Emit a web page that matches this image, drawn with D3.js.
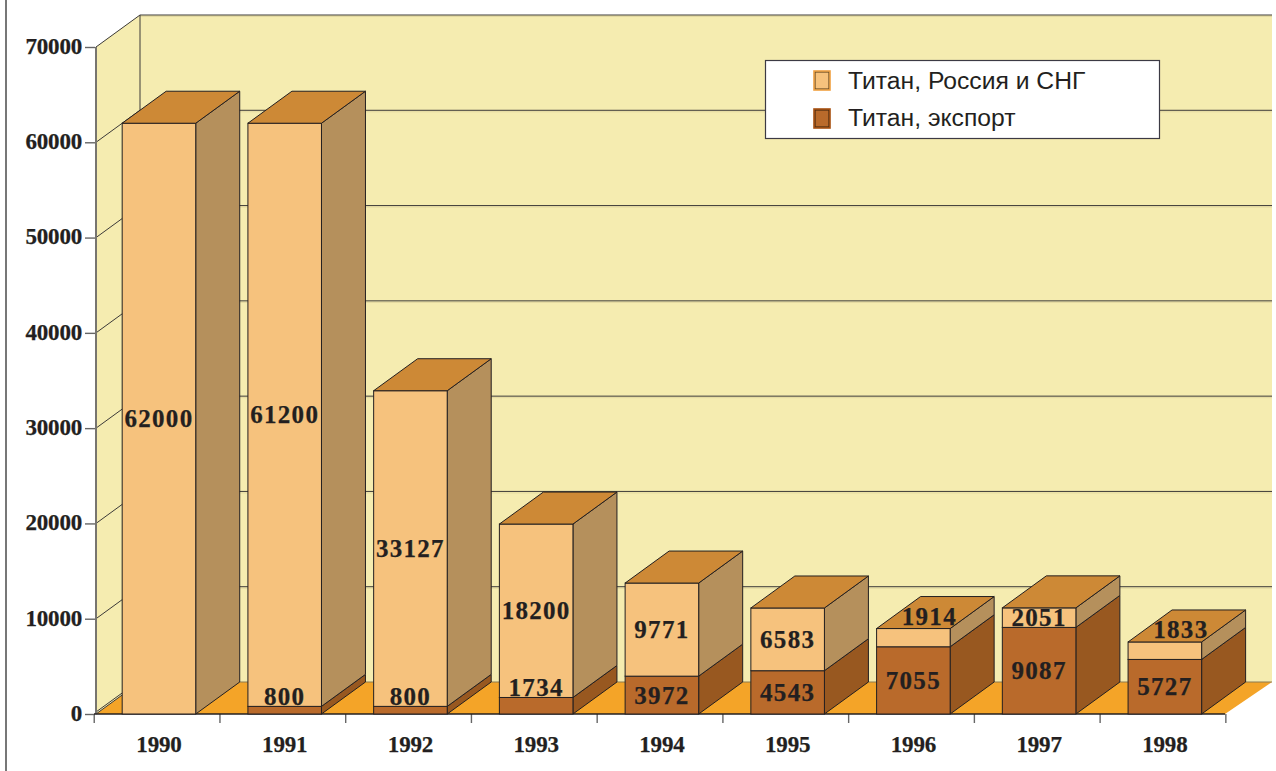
<!DOCTYPE html>
<html><head><meta charset="utf-8">
<script src="https://cdn.jsdelivr.net/npm/d3@7/dist/d3.min.js"></script>
<style>html,body{margin:0;padding:0;background:#fff;overflow:hidden}svg{display:block}
.s{font-family:"Liberation Serif",serif;font-weight:700;fill:#231f20;stroke:#231f20;stroke-width:.25px}</style>
</head><body><svg id="c" width="1276" height="771"></svg>
<script>
const years = ["1990","1991","1992","1993","1994","1995","1996","1997","1998"];
const exportValues = [0,800,800,1734,3972,4543,7055,9087,5727];
const russiaValues = [62000,61200,33127,18200,9771,6583,1914,2051,1833];
const yTicks = [0,10000,20000,30000,40000,50000,60000,70000];
const seriesNames = ["Титан, Россия и СНГ","Титан, экспорт"];

const light = {front:"#f6c27d", side:"#b5905c", top:"#cd8936"};
const dark  = {front:"#b96a2b", side:"#985820", top:"#cd8936"};
const wallC = "#f5ecb0", floorC = "#f4a428", ink = "#231f20", line = "#3c3a38";
const depthX = 44, depthY = -32;

const svg = d3.select("#c");
const x = d3.scaleBand().domain(years).range([96.4,1227.4]).paddingInner(0.415).paddingOuter(0.205);
const y = d3.scaleLinear().domain([0,70000]).range([714,47]);
const poly = pts => pts.map(p=>p.join(",")).join(" ");

svg.append("line").attr("x1",6).attr("x2",6).attr("y1",0).attr("y2",771).attr("stroke","#555").attr("stroke-width",1.6);

const [x0,x1] = [96,1228];
const yTop = y(70000), yBase = y(0);
svg.append("polygon").attr("points",poly([[x0,yTop],[x0+depthX,yTop+depthY],[x0+depthX,yBase+depthY],[x0,yBase]])).attr("fill",wallC);
svg.append("rect").attr("x",x0+depthX).attr("y",yTop+depthY).attr("width",x1-x0).attr("height",yBase-yTop).attr("fill",wallC);
svg.append("polygon").attr("points",poly([[x0,yBase],[x0+depthX,yBase+depthY],[x1+depthX,yBase+depthY],[x1-3,yBase]])).attr("fill",floorC);

const grid = svg.append("g");
yTicks.forEach(t=>{
  const yy = y(t);
  if(t>0){
    grid.append("line").attr("x1",x0+depthX).attr("x2",x1+depthX).attr("y1",yy+depthY+1.5).attr("y2",yy+depthY+1.5).attr("stroke","#e3d9a0").attr("stroke-width",1);
    grid.append("line").attr("x1",x0+depthX).attr("x2",x1+depthX).attr("y1",yy+depthY).attr("y2",yy+depthY).attr("stroke",line).attr("stroke-width",1);
  } else {
    grid.append("line").attr("x1",x0+depthX).attr("x2",x1+depthX).attr("y1",yy+depthY).attr("y2",yy+depthY).attr("stroke","#8a7a50").attr("stroke-width",1);
    grid.append("line").attr("x1",x0).attr("x2",x0+depthX).attr("y1",yy-2).attr("y2",yy+depthY-2).attr("stroke",line).attr("stroke-width",1);
  }
  grid.append("line").attr("x1",x0).attr("x2",x0+depthX).attr("y1",yy).attr("y2",yy+depthY).attr("stroke",line).attr("stroke-width",1);
});
grid.append("line").attr("x1",x0+depthX).attr("x2",x0+depthX).attr("y1",yTop+depthY).attr("y2",yBase+depthY).attr("stroke",line).attr("stroke-width",1);
grid.append("line").attr("x1",x0).attr("x2",x0).attr("y1",yTop).attr("y2",yBase).attr("stroke","#77756f").attr("stroke-width",2);

const axL = svg.append("g").attr("transform",`translate(${x0-1},0)`)
  .call(d3.axisLeft(y).tickValues(yTicks).tickFormat(d3.format("d")).tickSize(10).tickPadding(3));
const axB = svg.append("g").attr("transform",`translate(0,${yBase})`)
  .call(d3.axisBottom(x).tickSize(0).tickPadding(22));
axL.select(".domain").remove(); axB.select(".domain").remove();
axL.selectAll("line").attr("stroke","#666").attr("stroke-width",1.4);
axL.selectAll("text").attr("class","s").attr("y",-1).style("font-size","23px").style("letter-spacing","-.2px");
axB.selectAll("text").attr("class","s").style("font-size","23px").style("letter-spacing","-.2px");
const step = x.step();
const firstTick = x(years[0]) - x.bandwidth()*0.38;
axB.selectAll("line.sep").data(d3.range(years.length+1)).enter().append("line").attr("class","sep")
  .attr("x1",i=>firstTick+i*step).attr("x2",i=>firstTick+i*step)
  .attr("y1",0).attr("y2",9).attr("stroke","#666").attr("stroke-width",1.4);
svg.append("line").attr("x1",x0-2).attr("x2",x1-3).attr("y1",yBase).attr("y2",yBase).attr("stroke",ink).attr("stroke-width",1.4);

function seg(g,bx,w,v0,v1,c,withTop){
  const a=y(v0), b=y(v1);
  g.append("polygon").attr("points",poly([[bx+w,a],[bx+w+depthX,a+depthY],[bx+w+depthX,b+depthY],[bx+w,b]])).attr("fill",c.side).attr("stroke",ink).attr("stroke-width",1);
  g.append("rect").attr("x",bx).attr("y",b).attr("width",w).attr("height",a-b).attr("fill",c.front).attr("stroke",ink).attr("stroke-width",1);
  if(withTop) g.append("polygon").attr("points",poly([[bx,b],[bx+depthX,b+depthY],[bx+w+depthX,b+depthY],[bx+w,b]])).attr("fill",c.top).attr("stroke",ink).attr("stroke-width",1);
}
const bars = svg.append("g");
const labels = svg.append("g");
function lab(cx,cy,v){
  labels.append("text").attr("class","s").attr("x",cx).attr("y",cy).attr("text-anchor","middle").attr("dy","0.34em")
    .style("font-size","25px").style("letter-spacing","1.3px").text(v);
}
const small = 2000;
years.forEach((yr,i)=>{
  const bx=x(yr), w=x.bandwidth(), e=exportValues[i], r=russiaValues[i], cx=bx+w/2;
  const g=bars.append("g");
  if(e>0) seg(g,bx,w,0,e,dark,false);
  seg(g,bx,w,e,e+r,light,true);
  if(e>0) lab(cx, e<small ? y(e)-10 : y(e/2), e);
  if(r<small) lab(cx+16, y(e+r)-12, r);
  else lab(cx, y(e+r/2), r);
});

const leg = svg.append("g");
leg.append("rect").attr("x",765.5).attr("y",60.5).attr("width",394).attr("height",78).attr("fill","#fff").attr("stroke","#3c3a44").attr("stroke-width",1.2);
[[light,"#f0a040","#6b4a20"],[dark,"#a85010","#4a2a10"]].forEach(([c,o,n],i)=>{
  const yy=[71,109][i];
  leg.append("rect").attr("x",814).attr("y",yy).attr("width",16).attr("height",19).attr("fill",c.front).attr("stroke",o).attr("stroke-width",1.6);
  leg.append("rect").attr("x",815.2).attr("y",yy+1.2).attr("width",13.6).attr("height",16.6).attr("fill","none").attr("stroke",n).attr("stroke-width",.8);
  leg.append("text").attr("x",848).attr("y",[89,126][i]).attr("font-family","Liberation Sans").attr("font-size",24.7).attr("fill",ink).text(seriesNames[i]);
});
</script></body></html>
